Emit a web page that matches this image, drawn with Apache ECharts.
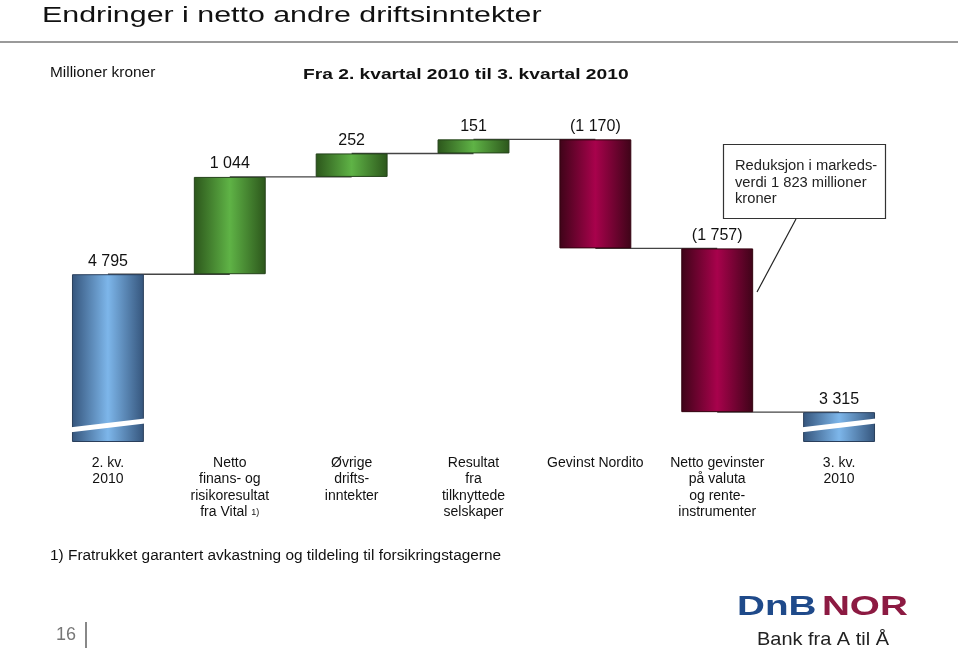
<!DOCTYPE html>
<html><head><meta charset="utf-8">
<script src="https://cdn.jsdelivr.net/npm/echarts@6/dist/echarts.min.js"></script>
<style>html,body{margin:0;padding:0;background:#fff}#c{width:960px;height:649px}</style>
</head><body><div id="c"></div>
<script>
// ---- data ----
const categories = [
  '2. kv.\n2010',
  'Netto\nfinans- og\nrisikoresultat\nfra Vital 1)',
  'Øvrige\ndrifts-\ninntekter',
  'Resultat\nfra\ntilknyttede\nselskaper',
  'Gevinst Nordito',
  'Netto gevinster\npå valuta\nog rente-\ninstrumenter',
  '3. kv.\n2010'
];
const changes = [4795, 1044, 252, 151, -1170, -1757, 3315];
const kinds = ['total', 'up', 'up', 'up', 'down', 'down', 'total'];
const valueLabels = ['4 795', '1 044', '252', '151', '(1 170)', '(1 757)', '3 315'];
const axisMin = 3000;
const axisMax = 6600;
const breakValue = 3171;

// ---- derived ----
const base = [], height = [], levels = [];
let run = 0;
for (let i = 0; i < changes.length; i++) {
  const v = changes[i];
  if (kinds[i] === 'total') { base.push(0); height.push(v); run = v; }
  else if (v >= 0) { base.push(run); height.push(v); run += v; }
  else { base.push(run + v); height.push(-v); run += v; }
  levels.push(run);
}
const connectorData = [];
for (let i = 0; i < changes.length - 1; i++) connectorData.push([i, levels[i]]);
const breakData = [];
for (let i = 0; i < changes.length; i++) if (kinds[i] === 'total') breakData.push([i, breakValue]);

function grad(dark, light) {
  return new echarts.graphic.LinearGradient(0, 0, 1, 0, [
    { offset: 0, color: dark }, { offset: 0.5, color: light }, { offset: 1, color: dark }
  ]);
}
const styles = {
  total: { color: grad('#35557c', '#7db6ea'), borderColor: '#2a3f5c' },
  up: { color: grad('#2c561b', '#5fb346'), borderColor: '#24421a' },
  down: { color: grad('#3e0418', '#a8024c'), borderColor: '#33030f' }
};
const BW = 0.59;
const font = '"Liberation Sans", Arial, sans-serif';

const chart = echarts.init(document.getElementById('c'));
chart.setOption({
  animation: false,
  backgroundColor: '#fff',
  grid: { left: 47, right: 60, top: 106, bottom: 207.5 },
  xAxis: {
    type: 'category', data: categories,
    axisLine: { show: false }, axisTick: { show: false },
    axisLabel: {
      interval: 0, margin: 13, color: '#111', fontSize: 14, lineHeight: 16.5,
      fontFamily: font,
      formatter: v => v.replace('1)', '{s|1)}'),
      rich: { s: { fontSize: 9, fontFamily: font, color: '#111', lineHeight: 16.5 } }
    }
  },
  yAxis: { type: 'value', min: axisMin, max: axisMax, show: false, splitLine: { show: false } },
  series: [
    {
      type: 'custom', z: 1, data: connectorData,
      renderItem: (params, api) => {
        const i = api.value(0), lv = api.value(1);
        const a = api.coord([i, lv]), b = api.coord([i + 1, lv]);
        return { type: 'line', shape: { x1: a[0], y1: a[1], x2: b[0], y2: b[1] },
                 style: { stroke: '#444', lineWidth: 1.4 } };
      }
    },
    {
      type: 'bar', stack: 'w', barWidth: (BW * 100) + '%', z: 2,
      itemStyle: { color: 'transparent' }, data: base, silent: true
    },
    {
      type: 'bar', stack: 'w', z: 3,
      data: height.map((h, i) => ({ value: h, itemStyle: { color: styles[kinds[i]].color, borderColor: styles[kinds[i]].borderColor, borderWidth: 1 } })),
      label: {
        show: true, position: 'top', distance: 5, fontSize: 16, color: '#111', fontFamily: font,
        formatter: p => valueLabels[p.dataIndex]
      }
    },
    {
      type: 'custom', z: 10, data: breakData,
      renderItem: (params, api) => {
        const c = api.coord([api.value(0), api.value(1)]);
        const w = api.size([1, 0])[0] * BW;
        const lx = c[0] - w / 2 - 3, rx = c[0] + w / 2 + 1, cy = c[1];
        return { type: 'polygon', shape: { points: [[lx, cy + 2], [rx, cy - 7], [rx, cy - 2], [lx, cy + 7]] },
                 style: { fill: '#fff' } };
      }
    }
  ],
  graphic: [
    { type: 'text', x: 42, y: 5, scaleX: 1.38, style: { text: 'Endringer i netto andre driftsinntekter', fontSize: 22, fontFamily: font, fill: '#111', verticalAlign: 'top' } },
    { type: 'rect', shape: { x: 0, y: 41, width: 958, height: 2 }, style: { fill: '#9a9a9a' } },
    { type: 'text', x: 50, y: 66, scaleX: 1.1, style: { text: 'Millioner kroner', fontSize: 14, fontFamily: font, fill: '#111', verticalAlign: 'top' } },
    { type: 'text', x: 303, y: 67, scaleX: 1.28, style: { text: 'Fra 2. kvartal 2010 til 3. kvartal 2010', fontSize: 15, fontWeight: 'bold', fontFamily: font, fill: '#111', verticalAlign: 'top' } },
    { type: 'rect', shape: { x: 723.5, y: 144.5, width: 162, height: 74 }, style: { fill: '#fff', stroke: '#333', lineWidth: 1.2 }, z: 20 },
    { type: 'text', x: 735, y: 158, scaleX: 1.05, z: 21, style: { text: 'Reduksjon i markeds-\nverdi 1 823 millioner\nkroner', fontSize: 14, lineHeight: 16.5, fontFamily: font, fill: '#222', verticalAlign: 'top' } },
    { type: 'line', shape: { x1: 796, y1: 219, x2: 757, y2: 292 }, style: { stroke: '#222', lineWidth: 1.2 }, z: 20 },
    { type: 'text', x: 50, y: 549, scaleX: 1.1, style: { text: '1) Fratrukket garantert avkastning og tildeling til forsikringstagerne', fontSize: 14, fontFamily: font, fill: '#111', verticalAlign: 'top' } },
    { type: 'text', x: 56, y: 626, style: { text: '16', fontSize: 18, fontFamily: font, fill: '#777', verticalAlign: 'top' } },
    { type: 'rect', shape: { x: 85, y: 622, width: 2, height: 26 }, style: { fill: '#888' } },
    { type: 'text', x: 737, y: 593, scaleX: 1.38, style: { text: '{a|DnB}{b|NOR}', verticalAlign: 'top', rich: { a: { fontSize: 28, fontWeight: 'bold', fontFamily: font, fill: '#1f4a8a', color: '#1f4a8a' }, b: { fontSize: 28, fontWeight: 'bold', fontFamily: font, fill: '#8c1a42', color: '#8c1a42', padding: [0, 0, 0, 4] } } } },
    { type: 'text', x: 757, y: 630, scaleX: 1.05, style: { text: 'Bank fra A til Å', fontSize: 19, fontFamily: font, fill: '#222', verticalAlign: 'top' } }
  ]
});
</script>
</body></html>
